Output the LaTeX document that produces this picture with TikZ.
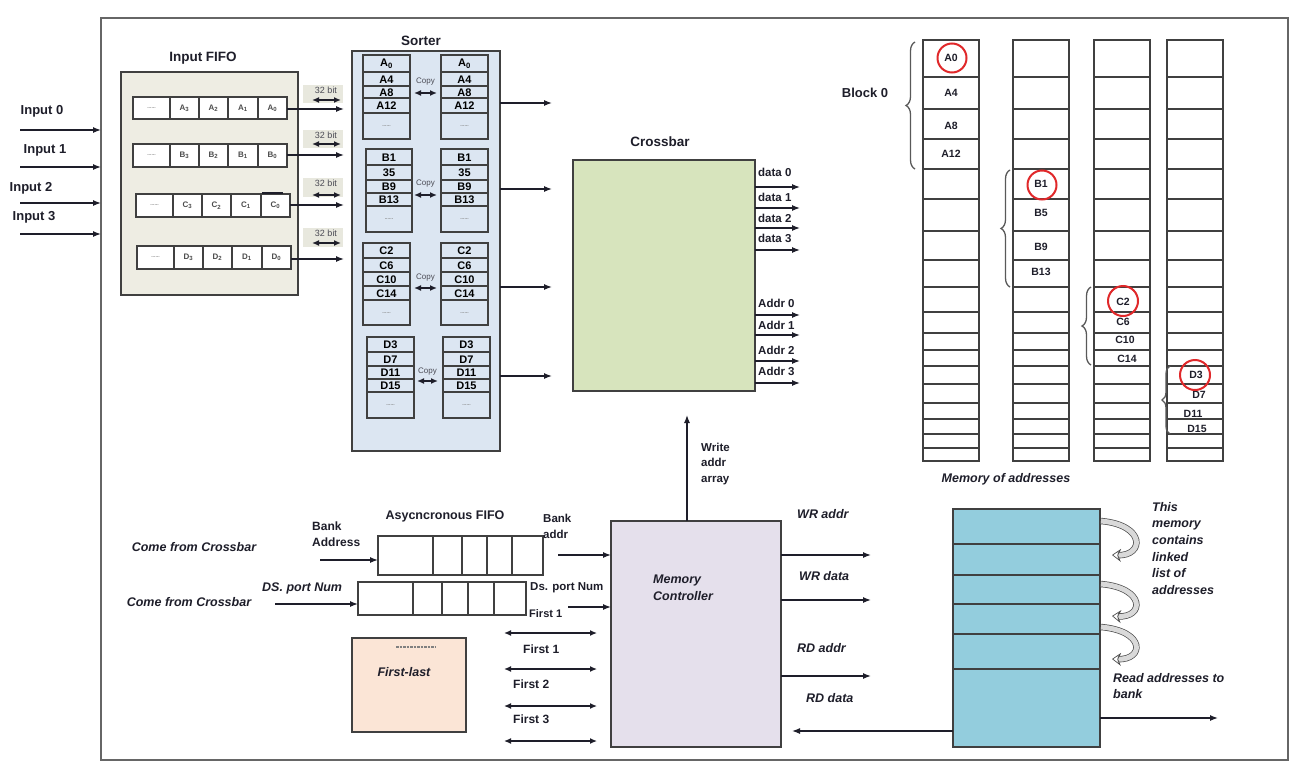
\documentclass[tikz,border=0pt]{standalone}
\usepackage{fontspec}
\setmainfont{Liberation Sans}
\usetikzlibrary{arrows.meta,decorations.pathreplacing}
\definecolor{fifobg}{HTML}{EEEDE3}
\definecolor{sortbg}{HTML}{DCE6F2}
\definecolor{xbarbg}{HTML}{D7E4BD}
\definecolor{flbg}{HTML}{FBE5D6}
\definecolor{mcbg}{HTML}{E5E0EC}
\definecolor{llbg}{HTML}{93CDDD}
\definecolor{edge}{HTML}{404040}
\definecolor{txt}{HTML}{1E1E2A}
\definecolor{circ}{HTML}{E0282A}
\definecolor{bitbg}{HTML}{E8E8DE}
\newcommand\mkbox[6]{\node[#6, minimum width={((#4)-(#2))*1pt}, minimum height={((#5)-(#3))*1pt}] (#1) at ({((#2)+(#4))/2},{((#3)+(#5))/2}) {};}
\newcommand\dts{{\fontsize{5}{5}\selectfont\color{gray}......}}
\newcommand\fiforow[5]{%
  \mkbox{#1}{#2}{#3}{#2+154}{#4}{cellfr}
  \foreach \d in {37,66,95,125} {\draw[cellline] ({#2+\d},#3) -- ({#2+\d},#4);}
  \node[ftxt] (#1-d) at ({#2+18.5},{(#3+#4)/2}) {\dts};
  \node[ftxt] (#1-3) at ({#2+51.5},{(#3+#4)/2}) {#5\textsubscript{3}};
  \node[ftxt] (#1-2) at ({#2+80.5},{(#3+#4)/2}) {#5\textsubscript{2}};
  \node[ftxt] (#1-1) at ({#2+110},{(#3+#4)/2}) {#5\textsubscript{1}};
  \node[ftxt] (#1-0) at ({#2+139.5},{(#3+#4)/2}) {#5\textsubscript{0}};
}
\newcommand\sblk[4]{%
  \foreach \ya/\yb/\tx in {#4} {%
    \draw[cellline] (#2,\ya) rectangle (#3,\yb);
    \node[celltxt] (#1-\ya) at ({(#2+#3)/2},{(\ya+\yb)/2+0.5}) {\tx};}
}
\begin{document}
\begin{tikzpicture}[x=1pt,y=-1pt,
  arr/.style={-{Latex[length=8pt,width=6pt]}, line width=1.3pt, draw=txt},
  darr/.style={{Latex[length=7pt,width=6pt]}-{Latex[length=7pt,width=6pt]}, line width=1.4pt, draw=txt},
  mybox/.style={draw=edge, line width=1.6pt, inner sep=0pt, outer sep=0pt, rectangle},
  cellfr/.style={draw=edge, line width=1.4pt, fill=white, inner sep=0pt, outer sep=0pt, rectangle},
  cellline/.style={draw=edge, line width=1.4pt},
  memline/.style={draw=edge, line width=1.4pt},
  ttltxt/.style={font=\fontsize{13.5}{15}\selectfont\bfseries, text=txt, inner sep=0pt},
  lbltxt/.style={font=\fontsize{13}{15}\selectfont\bfseries, text=txt, inner sep=0pt},
  celltxt/.style={font=\fontsize{11}{12}\selectfont\bfseries, text=black, inner sep=0pt},
  ftxt/.style={font=\fontsize{8}{9}\selectfont\bfseries, text=gray!60!black, inner sep=0pt},
  outtxt/.style={font=\fontsize{11.5}{13}\selectfont\bfseries, text=txt, inner sep=0pt, anchor=west},
  ittxt/.style={font=\fontsize{12.5}{16.6}\selectfont\bfseries\itshape, text=txt, inner sep=0pt},
  smtxt/.style={font=\fontsize{9}{10}\selectfont, text=txt!80, inner sep=0pt},
  memtxt/.style={font=\fontsize{10.5}{12}\selectfont\bfseries, text=txt, inner sep=0pt},
  rcirc/.style={draw=circ, line width=2pt, circle, inner sep=0pt},
  mybrace/.style={decorate, decoration={brace, amplitude=9pt}, draw=gray!70!black, line width=1.3pt},
  curv/.style={draw=gray!60!black, line width=0.7pt, double=gray!30, double distance=5pt, -{Stealth[open, length=9pt, width=13pt]}}
]
\useasboundingbox (0,0) rectangle (1291,763);
\fill[white] (0,0) rectangle (1291,763);
% outer frame
\mkbox{frame}{101}{18}{1288}{760}{mybox, draw=gray!80!black}
% inputs
\node[lbltxt] (lin0) at (42,111) {Input 0};
\node[lbltxt] (lin1) at (45,150) {Input 1};
\node[lbltxt] (lin2) at (31,188) {Input 2};
\node[lbltxt] (lin3) at (34,217) {Input 3};
\foreach \y/\n in {130/0,167/1,203/2,234/3} {
  \coordinate (in\n) at (20,\y);
  \draw[arr] (in\n) -- (in\n -| frame.west);
}
% Input FIFO
\node[ttltxt] (tfifo) at (203,58) {Input FIFO};
\mkbox{fifo}{121}{72}{298}{295}{mybox, fill=fifobg}
\fiforow{fa}{133}{97}{119}{A}
\fiforow{fb}{133}{144}{167}{B}
\fiforow{fc}{136}{194}{217}{C}
\fiforow{fd}{137}{246}{269}{D}
\draw[txt, line width=2pt] (262,193) -- (283,193);
% 32 bit labels
\foreach \yt/\yb/\ya/\n in {85/103/100/a,130/148/144/b,178/197/195/c,228/247/243/d} {
  \mkbox{bit\n}{303}{\yt}{343}{\yb}{fill=bitbg, inner sep=0pt, outer sep=0pt, rectangle}
  \node[smtxt] (bitt\n) at (326,{\yt+5.5}) {32 bit};
  \draw[darr, line width=1.3pt] (312,\ya) -- (341,\ya);
}
% Sorter
\node[ttltxt] (tsort) at (421,41) {Sorter};
\mkbox{sorter}{352}{51}{500}{451}{mybox, fill=sortbg}
\foreach \r/\y in {fa/109,fb/155,fc/205,fd/259} {
  \draw[arr, shorten >=8pt] (\r.east |- 0,\y) -- (sorter.west |- 0,\y);
}
\sblk{la}{363}{410}{55/72/A\textsubscript{0}, 72/86/A4, 86/98/A8, 98/113/A12, 113/139/\dts}
\sblk{ra}{441}{488}{55/72/A\textsubscript{0}, 72/86/A4, 86/98/A8, 98/113/A12, 113/139/\dts}
\sblk{lb}{366}{412}{149/165/B1, 165/180/35, 180/193/B9, 193/206/B13, 206/232/\dts}
\sblk{rb}{441}{488}{149/165/B1, 165/180/35, 180/193/B9, 193/206/B13, 206/232/\dts}
\sblk{lc}{363}{410}{243/258/C2, 258/272/C6, 272/286/C10, 286/300/C14, 300/325/\dts}
\sblk{rc}{441}{488}{243/258/C2, 258/272/C6, 272/286/C10, 286/300/C14, 300/325/\dts}
\sblk{ld}{367}{414}{337/352/D3, 352/366/D7, 366/379/D11, 379/392/D15, 392/418/\dts}
\sblk{rd}{443}{490}{337/352/D3, 352/366/D7, 366/379/D11, 379/392/D15, 392/418/\dts}
\foreach \yl/\ya/\xa/\xb/\n in {82/93/414/437/a,184/195/414/437/b,278/288/414/437/c,372/381/417/438/d} {
  \node[smtxt, font=\fontsize{8}{9}\selectfont] (copy\n) at ({(\xa+\xb)/2},\yl) {Copy};
  \draw[darr] (\xa,\ya) -- (\xb,\ya);
}
\foreach \y in {103,189,287,376} {
  \draw[arr] (sorter.east |- 0,\y) -- ++(52,0);
}
% Crossbar
\node[ttltxt] (txbar) at (660,142) {Crossbar};
\mkbox{xbar}{573}{160}{755}{391}{mybox, fill=xbarbg}
\foreach \yl/\ya/\t in {172/187/data 0, 197/208/data 1, 218/228/data 2, 238/250/data 3, 303/315/Addr 0, 325/335/Addr 1, 350/361/Addr 2, 371/383/Addr 3} {
  \node[outtxt] at (758,\yl) {\t};
  \draw[arr] (xbar.east |- 0,\ya) -- ++(45,0);
}
% Memory of addresses
\foreach \x/\n in {923/1,1013/2,1094/3,1167/4} {
  \mkbox{mcol\n}{\x}{40}{\x+56}{461}{mybox}
  \foreach \ya/\yb in {40/77,77/109,109/139,139/169,169/199,199/231,231/260,260/287,287/312,312/333,333/350,350/366,366/384,384/403,403/419,419/434,434/448,448/461} {
    \draw[memline] (\x,\ya) rectangle ({\x+56},\yb);
  }
}
\node[lbltxt] (blk0) at (865,93) {Block 0};
\foreach \x/\y/\t/\n in {951/58/A0/a0, 951/93/A4/a4, 951/126/A8/a8, 951/154/A12/a12,
  1041/184/B1/b1, 1041/213/B5/b5, 1041/247/B9/b9, 1041/272/B13/b13,
  1123/302/C2/c2, 1123/322/C6/c6, 1125/340/C10/c10, 1127/359/C14/c14,
  1196/375/D3/d3, 1199/395/D7/d7, 1193/414/D11/d11, 1197/429/D15/d15} {
  \node[memtxt] (m\n) at (\x,\y) {\t};
}
\node[rcirc, minimum size=29pt] (ca) at (952,58) {};
\node[rcirc, minimum size=29pt] (cb) at (1042,185) {};
\node[rcirc, minimum size=30pt] (cc) at (1123,301) {};
\node[rcirc, minimum size=30pt] (cd) at (1195,375) {};
\draw[mybrace] (915,169) -- (915,42);
\draw[mybrace] (1010,287) -- (1010,170);
\draw[mybrace] (1091,365) -- (1091,287);
\draw[mybrace, decoration={brace, amplitude=8pt}] (1170,434) -- (1170,366);
\node[ittxt] (tmem) at (1006,479) {Memory of addresses};
% Asynchronous FIFO
\node[ittxt] (cfc1) at (194,547) {Come from Crossbar};
\node[ittxt] (cfc2) at (189,602) {Come from Crossbar};
\node[lbltxt, font=\fontsize{12}{16.5}\selectfont\bfseries, align=left, anchor=west] (bkad) at (312,534) {Bank\\Address};
\node[ttltxt, font=\fontsize{12.5}{15}\selectfont\bfseries] (tafifo) at (445,516) {Asycncronous FIFO};
\mkbox{af1}{378}{536}{543}{575}{cellfr}
\foreach \x in {433,462,487,512} {\draw[cellline] (\x,536) -- (\x,575);}
\mkbox{af2}{358}{582}{526}{615}{cellfr}
\foreach \x in {413,442,468,494} {\draw[cellline] (\x,582) -- (\x,615);}
\node[ittxt, anchor=west] (dsin) at (262,588) {DS. port Num};
\coordinate (bain) at (320,560);
\draw[arr] (bain) -- (af1.west |- bain);
\coordinate (dsst) at (275,604);
\draw[arr] (dsst) -- (af2.west |- dsst);
\node[outtxt, font=\fontsize{11.5}{16}\selectfont\bfseries, align=left] (bkaddr) at (543,526) {Bank\\addr};
\node[outtxt, font=\fontsize{11.5}{13}\selectfont\bfseries] (dsout) at (530,588) {Ds. port Num};
\node[outtxt, font=\fontsize{11}{13}\selectfont\bfseries] (f1a) at (529,614) {First 1};
\node[outtxt, font=\fontsize{12}{13}\selectfont\bfseries] (f1b) at (523,649) {First 1};
\node[outtxt, font=\fontsize{12}{13}\selectfont\bfseries] (f2) at (513,684) {First 2};
\node[outtxt, font=\fontsize{12}{13}\selectfont\bfseries] (f3) at (513,719) {First 3};
\foreach \y/\n in {633/a,669/b,706/c,741/d} {
  \coordinate (dl\n) at (504,\y);
  \coordinate (dr\n) at (597,\y);
  \draw[darr, line width=1.3pt] (dl\n) -- (dr\n);
}
% First-last
\mkbox{fl}{352}{638}{466}{732}{mybox, fill=flbg}
\draw[gray, line width=1.3pt, dash pattern=on 2.5pt off 1pt] (396,647) -- (435,647);
\node[ittxt] (tfl) at (404,672) {First-last};
% Memory controller
\mkbox{mc}{611}{521}{781}{747}{mybox, fill=mcbg}
\node[ittxt, align=left, anchor=west, font=\fontsize{12.5}{17}\selectfont\bfseries\itshape] (tmc) at (653,588) {Memory\\Controller};
\coordinate (babeg) at (558,555);
\draw[arr] (babeg) -- (mc.west |- babeg);
\coordinate (dsbeg) at (568,607);
\draw[arr] (dsbeg) -- (mc.west |- dsbeg);
\coordinate (wa) at (687,415);
\draw[arr] (mc.north -| wa) -- (wa);
\node[outtxt, align=left, font=\fontsize{11.5}{15.5}\selectfont\bfseries] (twa) at (701,464) {Write\\addr\\array};
\node[ittxt, anchor=west] (twra) at (797,514) {WR addr};
\node[ittxt, anchor=west] (twrd) at (799,576) {WR data};
\node[ittxt, anchor=west] (trda) at (797,648) {RD addr};
\node[ittxt, anchor=west] (trdd) at (806,698) {RD data};
\foreach \y/\n in {555/a,600/b,676/c} {
  \coordinate (mo\n) at (871,\y);
  \draw[arr] (mc.east |- mo\n) -- (mo\n);
}
% Linked list memory
\mkbox{ll}{953}{509}{1100}{747}{mybox, fill=llbg}
\foreach \y in {544,575,604,634,669} {\draw[cellline] (953,\y) -- (1100,\y);}
\coordinate (rdd) at (953,731);
\draw[arr, shorten >=11pt] (rdd) -- (mc.east |- rdd);
\draw[curv] (1101,521) .. controls (1146,525) and (1144,556) .. (1112,555);
\draw[curv] (1101,584) .. controls (1146,588) and (1144,618) .. (1112,616);
\draw[curv] (1101,627) .. controls (1146,631) and (1144,660) .. (1112,659);
\node[ittxt, align=left, anchor=north west] (tlink) at (1152,502) {This\\memory\\contains\\linked\\list of\\addresses};
\node[ittxt, align=left, anchor=west] (tread) at (1113,686) {Read addresses to\\bank};
\coordinate (rdo) at (1218,718);
\draw[arr] (ll.east |- rdo) -- (rdo);
\end{tikzpicture}
\end{document}
